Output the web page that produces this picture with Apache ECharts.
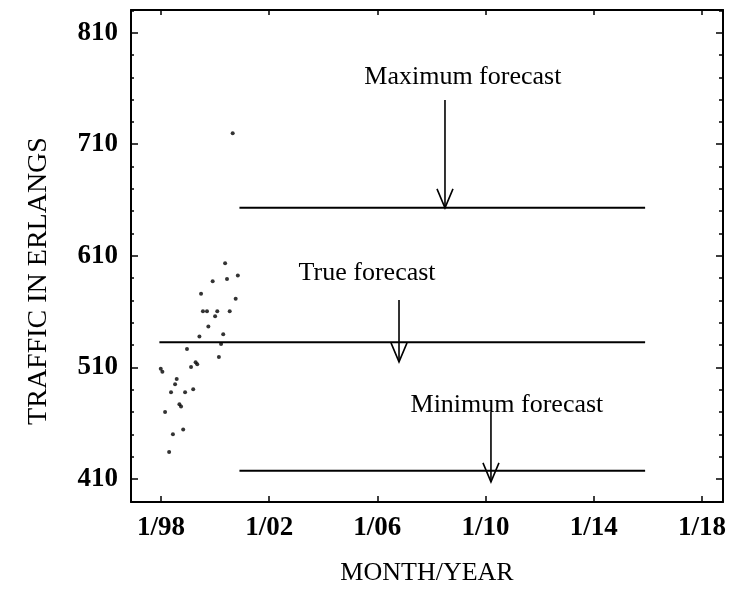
<!DOCTYPE html>
<html>
<head>
<meta charset="utf-8">
<script src="https://cdn.jsdelivr.net/npm/echarts@6/dist/echarts.min.js"></script>
<style>html,body{margin:0;padding:0;background:#fff;}#chart{width:731px;height:595px;}</style>
</head>
<body>
<div id="chart"></div>
<script>
// ---- data ----
const xTickValues = [1998, 2002, 2006, 2010, 2014, 2018];
const xTickLabels = ['1/98', '1/02', '1/06', '1/10', '1/14', '1/18'];
const yTickValues = [410, 510, 610, 710, 810];
const yMinorTickValues = [390, 410, 430, 450, 470, 490, 510, 530, 550, 570, 590, 610, 630, 650, 670, 690, 710, 730, 750, 770, 790, 810, 830];

const observedX = [2000.65, 2000.37, 2000.84, 2000.44, 1999.91, 1999.48, 2000.76, 1999.55, 1999.70, 2000.08,
  2000.00, 2000.54, 1999.75, 1999.42, 2000.30, 2000.22, 1998.96, 2000.14, 1999.28, 1999.34,
  1999.11, 1997.99, 1998.05, 1998.58, 1998.52, 1998.37, 1998.89, 1999.19, 1998.68, 1998.74,
  1998.15, 1998.82, 1998.44, 1998.30];
const observedY = [719.9, 603.4, 592.3, 589.3, 587.2, 576.1, 571.6, 560.4, 560.4, 560.4,
  555.9, 560.4, 546.6, 537.6, 539.7, 531.1, 526.6, 519.4, 514.7, 512.9,
  510.4, 508.7, 506.2, 499.7, 494.9, 487.8, 487.8, 490.5, 477.0, 474.9,
  470.1, 454.3, 450.1, 434.3];

const maxForecastX = [2000.9, 2015.9];
const maxForecastY = [653, 653];
const trueForecastX = [1997.94, 2015.9];
const trueForecastY = [532.6, 532.6];
const minForecastX = [2000.9, 2015.9];
const minForecastY = [417.3, 417.3];

const annotTexts = ['Maximum forecast', 'True forecast', 'Minimum forecast'];
const annotX = [2009.16, 2005.62, 2010.79];
const annotY = [770.3, 594.7, 476.4];
const arrowX = [2008.5, 2006.8, 2010.2];
const arrowTopY = [749.7, 570.5, 470.0];
const arrowTipY = [653, 515.0, 407.4];

// ---- build ----
const xMin = 1996.89, xMax = 2018.78, yMin = 389.4, yMax = 830.3;
const tickFont = "'Liberation Serif', 'DejaVu Serif', serif";
const serif = "'Liberation Serif', 'DejaVu Serif', serif";

const zip = (a, b) => a.map((v, i) => [v, b[i]]);
const labelMap = {};
xTickValues.forEach((v, i) => labelMap[v] = xTickLabels[i]);

const chart = echarts.init(document.getElementById('chart'), null, {renderer: 'canvas'});
const blackLine = {show: true, lineStyle: {color: '#000', width: 2}};

chart.setOption({
  animation: false,
  backgroundColor: '#fff',
  grid: {left: 131, top: 10, right: 8, bottom: 93},
  xAxis: [
    {
      type: 'value', min: xMin, max: xMax, position: 'bottom',
      axisLine: blackLine,
      axisTick: {show: true, inside: true, length: 6, customValues: xTickValues, lineStyle: {color: '#000', width: 1.5}},
      axisLabel: {show: true, customValues: xTickValues, formatter: v => labelMap[Math.round(v)] || '',
        margin: 13, color: '#000', fontFamily: tickFont, fontWeight: 'bold', fontSize: 27},
      splitLine: {show: false},
      name: 'MONTH/YEAR', nameLocation: 'middle', nameGap: 58,
      nameTextStyle: {color: '#000', fontFamily: serif, fontSize: 26}
    },
    {
      type: 'value', min: xMin, max: xMax, position: 'top',
      axisLine: blackLine,
      axisTick: {show: true, inside: true, length: 5, customValues: xTickValues, lineStyle: {color: '#000', width: 1.5}},
      axisLabel: {show: false}, splitLine: {show: false}
    }
  ],
  yAxis: [
    {
      type: 'value', min: yMin, max: yMax, position: 'left',
      axisLine: blackLine,
      axisTick: {show: true, inside: true, length: 7, customValues: yTickValues, lineStyle: {color: '#000', width: 1.5}},
      axisLabel: {show: true, customValues: yTickValues, margin: 13, color: '#000',
        fontFamily: tickFont, fontWeight: 'bold', fontSize: 27},
      splitLine: {show: false},
      name: 'TRAFFIC IN ERLANGS', nameLocation: 'middle', nameGap: 78,
      nameTextStyle: {color: '#000', fontFamily: serif, fontSize: 28, padding: [0, 50, 0, 0]}
    },
    {
      type: 'value', min: yMin, max: yMax, position: 'left',
      axisLine: {show: false},
      axisTick: {show: true, inside: true, length: 3, customValues: yMinorTickValues, lineStyle: {color: '#000', width: 1.5}},
      axisLabel: {show: false}, splitLine: {show: false}
    },
    {
      type: 'value', min: yMin, max: yMax, position: 'right',
      axisLine: blackLine,
      axisTick: {show: true, inside: true, length: 4, customValues: yMinorTickValues, lineStyle: {color: '#000', width: 1.5}},
      axisLabel: {show: false}, splitLine: {show: false}
    },
    {
      type: 'value', min: yMin, max: yMax, position: 'right',
      axisLine: {show: false},
      axisTick: {show: true, inside: true, length: 7, customValues: yTickValues, lineStyle: {color: '#000', width: 1.5}},
      axisLabel: {show: false}, splitLine: {show: false}
    }
  ],
  series: [
    {
      type: 'scatter', name: 'Observed', data: zip(observedX, observedY),
      symbol: 'circle', symbolSize: 4, itemStyle: {color: '#000'}, z: 5
    },
    {
      type: 'line', name: 'Maximum forecast', data: zip(maxForecastX, maxForecastY),
      showSymbol: false, symbol: 'none', lineStyle: {color: '#000', width: 2}
    },
    {
      type: 'line', name: 'True forecast', data: zip(trueForecastX, trueForecastY),
      showSymbol: false, symbol: 'none', lineStyle: {color: '#000', width: 2}
    },
    {
      type: 'line', name: 'Minimum forecast', data: zip(minForecastX, minForecastY),
      showSymbol: false, symbol: 'none', lineStyle: {color: '#000', width: 2}
    },
    {
      type: 'custom', name: 'arrows',
      data: arrowX.map((x, i) => [x, arrowTopY[i], arrowTipY[i]]),
      renderItem: function (params, api) {
        const p1 = api.coord([api.value(0), api.value(1)]);
        const p2 = api.coord([api.value(0), api.value(2)]);
        return {
          type: 'group',
          children: [
            {type: 'line', shape: {x1: p1[0], y1: p1[1], x2: p2[0], y2: p2[1]},
              style: {stroke: '#000', lineWidth: 1.6}},
            {type: 'polyline', shape: {points: [[p2[0] - 8, p2[1] - 19], [p2[0], p2[1]], [p2[0] + 8, p2[1] - 19]]},
              style: {stroke: '#000', fill: null, lineWidth: 1.6}}
          ]
        };
      },
      z: 6
    },
    {
      type: 'custom', name: 'annotations',
      data: annotX.map((x, i) => [x, annotY[i], i]),
      renderItem: function (params, api) {
        const p = api.coord([api.value(0), api.value(1)]);
        return {
          type: 'text', x: p[0], y: p[1],
          style: {text: annotTexts[api.value(2)], fill: '#000', fontFamily: serif, fontSize: 26,
            align: 'center', verticalAlign: 'middle'}
        };
      },
      z: 7
    }
  ]
});
</script>
</body>
</html>
